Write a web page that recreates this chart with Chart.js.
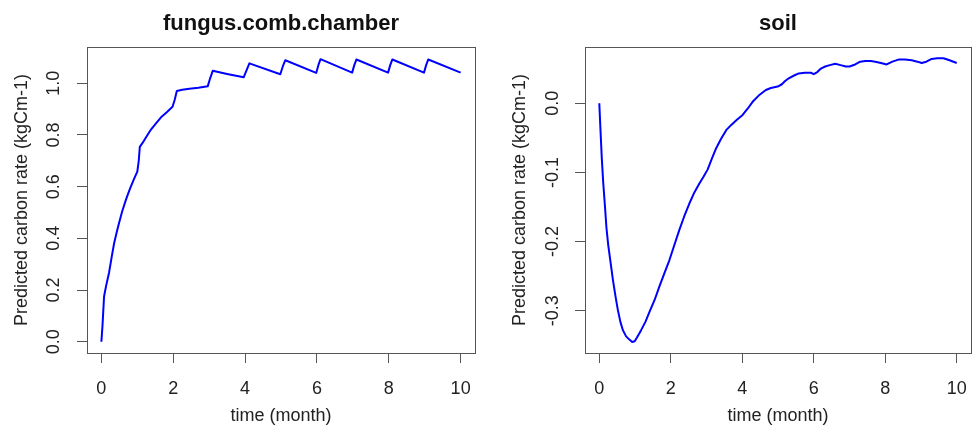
<!DOCTYPE html>
<html>
<head>
<meta charset="utf-8">
<script src="https://cdn.jsdelivr.net/npm/chart.js@4"></script>
<style>
  html, body { margin: 0; padding: 0; background: #fff; }
  #wrap { position: relative; width: 972px; height: 427px; }
  canvas { position: absolute; top: 0; }
  #leftPanel { left: 0; }
  #rightPanel { left: 486px; }
</style>
</head>
<body>
<div id="wrap">
  <canvas id="leftPanel" width="486" height="427"></canvas>
  <canvas id="rightPanel" width="486" height="427"></canvas>
</div>
<script>
// fungus.comb.chamber panel
const fungusTime = [0, 0.03, 0.075, 0.13, 0.215, 0.29, 0.355, 0.42, 0.49, 0.58, 0.68, 0.75, 0.82, 0.91, 1.0, 1.04, 1.07, 1.16, 1.24, 1.38, 1.52, 1.66, 1.82, 1.98, 2.04, 2.1, 2.25, 2.45, 2.7, 2.96, 3.03, 3.1, 3.5, 3.96, 4.04, 4.12, 4.98, 5.05, 5.12, 5.98, 6.04, 6.1, 6.98, 7.04, 7.1, 7.98, 8.04, 8.1, 8.98, 9.04, 9.1, 10];
const fungusRate = [0, 0.059, 0.175, 0.215, 0.268, 0.33, 0.381, 0.42, 0.458, 0.505, 0.548, 0.575, 0.6, 0.63, 0.658, 0.7, 0.754, 0.772, 0.79, 0.821, 0.845, 0.868, 0.888, 0.909, 0.935, 0.97, 0.975, 0.979, 0.983, 0.988, 1.02, 1.048, 1.036, 1.023, 1.05, 1.077, 1.035, 1.065, 1.089, 1.040, 1.07, 1.093, 1.041, 1.07, 1.092, 1.041, 1.07, 1.092, 1.041, 1.07, 1.092, 1.041];

// soil panel
const soilTime = [0, 0.03, 0.07, 0.11, 0.16, 0.2, 0.25, 0.32, 0.38, 0.45, 0.52, 0.59, 0.66, 0.75, 0.85, 0.92, 0.99, 1.05, 1.17, 1.29, 1.41, 1.55, 1.68, 1.82, 1.96, 2.1, 2.24, 2.38, 2.52, 2.66, 2.8, 2.92, 3.03, 3.15, 3.27, 3.4, 3.55, 3.7, 3.85, 4.01, 4.15, 4.29, 4.46, 4.66, 4.8, 4.99, 5.1, 5.2, 5.3, 5.45, 5.58, 5.75, 5.92, 6.0, 6.1, 6.2, 6.32, 6.45, 6.6, 6.75, 6.9, 7.0, 7.16, 7.3, 7.44, 7.6, 7.72, 7.88, 8.04, 8.2, 8.37, 8.55, 8.74, 8.9, 9.02, 9.15, 9.3, 9.45, 9.63, 9.8, 10];
const soilRate = [0, -0.035, -0.08, -0.115, -0.15, -0.18, -0.205, -0.232, -0.255, -0.278, -0.299, -0.316, -0.328, -0.337, -0.342, -0.345, -0.344, -0.339, -0.328, -0.316, -0.301, -0.284, -0.265, -0.246, -0.227, -0.205, -0.183, -0.163, -0.145, -0.129, -0.116, -0.106, -0.096, -0.08, -0.065, -0.052, -0.039, -0.031, -0.024, -0.017, -0.008, 0.002, 0.011, 0.019, 0.022, 0.024, 0.027, 0.032, 0.036, 0.04, 0.043, 0.044, 0.044, 0.042, 0.045, 0.05, 0.053, 0.055, 0.057, 0.055, 0.053, 0.053, 0.056, 0.06, 0.061, 0.061, 0.060, 0.058, 0.056, 0.06, 0.063, 0.063, 0.062, 0.06, 0.058, 0.06, 0.064, 0.065, 0.065, 0.062, 0.058];

const xTicks = [0, 2, 4, 6, 8, 10];
const fungusYTicks = [0, 0.2, 0.4, 0.6, 0.8, 1.0];
const soilYTicks = [-0.3, -0.2, -0.1, 0.0];

const xTitle = "time (month)";
const yTitle = "Predicted carbon rate (kgCm-1)";

const FONT = "'Liberation Sans', Arial, sans-serif";
const BOX = "#555";
const TXT = "#222";

// plot frame like R's box()
const boxPlugin = {
  id: "rbox",
  afterDraw(chart) {
    const a = chart.chartArea;
    const ctx = chart.ctx;
    ctx.save();
    ctx.strokeStyle = BOX;
    ctx.lineWidth = 1;
    ctx.strokeRect(Math.round(a.left) + 0.5, Math.round(a.top) + 0.5,
      Math.round(a.right - a.left), Math.round(a.bottom - a.top));
    ctx.restore();
  },
};

function makePanel(id, opts) {
  const points = opts.time.map((t, i) => ({ x: t, y: opts.rate[i] }));
  return new Chart(document.getElementById(id), {
    type: "line",
    data: {
      datasets: [{
        data: points,
        borderColor: "#0000ff",
        borderWidth: 2,
        borderJoinStyle: "round",
        pointRadius: 0,
        tension: 0,
        fill: false,
      }],
    },
    options: {
      responsive: false,
      animation: false,
      devicePixelRatio: 1,
      layout: { padding: { left: 0, right: opts.padRight, top: 0, bottom: 0 } },
      plugins: {
        legend: { display: false },
        tooltip: { enabled: false },
        title: {
          display: true,
          text: opts.title,
          fullSize: false,
          color: "#111",
          font: { family: FONT, size: 22, weight: "bold" },
          padding: { top: 11, bottom: 9.6 },
        },
      },
      scales: {
        x: {
          type: "linear",
          min: -0.4,
          max: 10.4,
          afterBuildTicks: (s) => { s.ticks = xTicks.map((v) => ({ value: v })); },
          afterFit: (s) => {
            s.height = 74;
            s.paddingLeft = 0;
            s.paddingRight = 0;
          },
          border: { display: false },
          grid: { display: true, drawOnChartArea: false, drawTicks: true, tickLength: 10, color: BOX },
          ticks: {
            color: TXT,
            padding: 15,
            maxRotation: 0,
            autoSkip: false,
            font: { family: FONT, size: 18 },
            callback: (v) => String(v),
          },
          title: {
            display: true,
            text: xTitle,
            color: TXT,
            font: { family: FONT, size: 18 },
            padding: { top: 0, bottom: 0 },
          },
        },
        y: {
          type: "linear",
          min: opts.yMin,
          max: opts.yMax,
          afterBuildTicks: (s) => { s.ticks = opts.yTicks.map((v) => ({ value: v })); },
          afterFit: (s) => {
            s.width = opts.axisWidth;
            s.paddingTop = 0;
            s.paddingBottom = 0;
          },
          border: { display: false },
          grid: { display: true, drawOnChartArea: false, drawTicks: true, tickLength: 10, color: BOX },
          ticks: {
            color: TXT,
            padding: opts.tickPad,
            minRotation: 90,
            maxRotation: 90,
            crossAlign: "center",
            autoSkip: false,
            font: { family: FONT, size: 18 },
            callback: (v) => v.toFixed(1),
          },
          title: {
            display: true,
            text: yTitle,
            color: TXT,
            font: { family: FONT, size: 18 },
            padding: { top: opts.titlePad, bottom: 0 },
          },
        },
      },
    },
    plugins: [boxPlugin],
  });
}

makePanel("leftPanel", {
  title: "fungus.comb.chamber",
  time: fungusTime,
  rate: fungusRate,
  yTicks: fungusYTicks,
  yMin: -0.0436,
  yMax: 1.1402,
  axisWidth: 87,
  padRight: 11,
  tickPad: 10.5,
  titlePad: 11,
});

makePanel("rightPanel", {
  title: "soil",
  time: soilTime,
  rate: soilRate,
  yTicks: soilYTicks,
  yMin: -0.361,
  yMax: 0.0812,
  axisWidth: 99,
  padRight: 1,
  tickPad: 6.5,
  titlePad: 23,
});
</script>
</body>
</html>
